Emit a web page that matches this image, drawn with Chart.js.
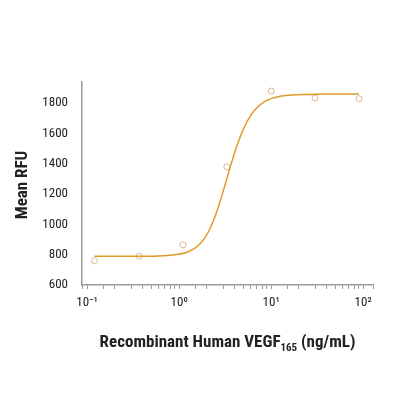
<!DOCTYPE html>
<html><head><meta charset="utf-8">
<script src="https://cdn.jsdelivr.net/npm/chart.js@4"></script>
<style>html,body{margin:0;background:#fff}#w{width:400px;height:400px}</style>
</head><body><div id="w"><canvas id="c"></canvas></div>
<script>
const doseX=[0.12,0.37,1.1,3.3,10,30,90];
const meanRFU=[760,790,865,1380,1880,1835,1830];
const fitX=[0.12,0.3,0.6,0.9,1.2,1.5,1.8,2.1,2.4,2.7,3,3.3,3.7,4.2,5,6,7,8.5,10,13,17,25,40,60,90];
const fitY=[790,790,792,800,815,845,890,955,1035,1125,1215,1300,1405,1510,1630,1720,1770,1810,1830,1848,1855,1858,1860,1860,1860];
const F="'Liberation Sans Narrow','Roboto Condensed','Liberation Sans',sans-serif";
const titles={id:'t',afterDraw(ch){const c=ch.ctx;c.save();c.fillStyle='#222';
 c.font='bold 17px '+F;c.textBaseline='alphabetic';
 const a='Recombinant Human VEGF',s='165',b=' (ng/mL)';
 c.font='bold 17px '+F;const wa=c.measureText(a).width,wb=c.measureText(b).width;
 c.font='bold 11px '+F;const ws=c.measureText(s).width;
 let x=(82+373)/2-(wa+ws+wb)/2,y=347;
 c.font='bold 17px '+F;c.fillText(a,x,y);x+=wa;
 c.font='bold 11px '+F;c.fillText(s,x,y+4);x+=ws;
 c.font='bold 17px '+F;c.fillText(b,x,y);
 c.translate(27,185);c.rotate(-Math.PI/2);c.textAlign='center';c.font='bold 17px '+F;c.fillText('Mean RFU',0,0);
 c.restore();}};
new Chart(document.getElementById('c'),{
 data:{datasets:[
  {type:'line',data:fitX.map((x,i)=>({x,y:fitY[i]})),borderColor:'#e09a2a',borderWidth:1.5,pointRadius:0,cubicInterpolationMode:'monotone',fill:false},
  {type:'scatter',data:doseX.map((x,i)=>({x,y:meanRFU[i]})),borderColor:'#d9b98a',backgroundColor:'rgba(0,0,0,0)',pointRadius:3,borderWidth:1}
 ]},
 options:{responsive:true,maintainAspectRatio:false,animation:false,
  layout:{padding:{left:0,right:27,top:82,bottom:0}},
  plugins:{legend:{display:false},tooltip:{enabled:false}},
  scales:{
   x:{type:'logarithmic',min:0.088,max:128,
    grid:{display:true,drawOnChartArea:false,tickLength:4,color:'#999'},
    border:{color:'#999',width:1.5},
    ticks:{autoSkip:false,maxRotation:0,color:'#222',font:{family:F,size:13},padding:6,
     callback:(v)=>{const m={0.1:'10⁻¹',1:'10⁰',10:'10¹',100:'10²'};for(const k in m){if(Math.abs(v-k)/k<1e-6)return m[k];}return '';}},
    afterFit(s){s.height=115;}},
   y:{min:600,max:1940,
    afterBuildTicks(s){s.ticks=[600,800,1000,1200,1400,1600,1800].map(v=>({value:v}));},
    grid:{display:false},border:{color:'#999',width:1.5},
    ticks:{color:'#222',font:{family:F,size:13},padding:6,callback:(v)=>String(v)},
    afterFit(s){s.width=82;}}
  }},
 plugins:[titles]});
</script></body></html>
